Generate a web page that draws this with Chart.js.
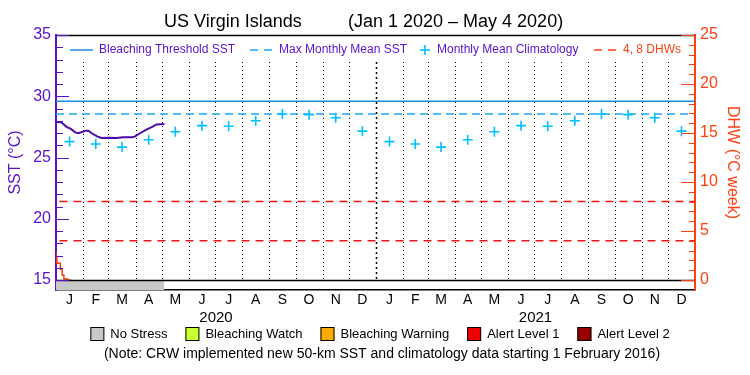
<!DOCTYPE html>
<html>
<head>
<meta charset="utf-8">
<script src="https://cdn.jsdelivr.net/npm/chart.js@4.4.0/dist/chart.umd.min.js"></script>
<style>
  html, body { margin:0; padding:0; background:#fff; }
</style>
</head>
<body>
<canvas id="chart" width="750" height="375"></canvas>
<script>
// months Jan 2020 .. Dec 2021
const monthDays   = [31,29,31,30,31,30,31,31,30,31,30,31, 31,28,31,30,31,30,31,31,30,31,30,31];
const monthLabels = ['J','F','M','A','M','J','J','A','S','O','N','D','J','F','M','A','M','J','J','A','S','O','N','D'];
const yearDays    = [366, 365];
const yearLabels  = ['2020', '2021'];

// monthly mean climatology Jan..Dec (same for both years)
const climatology = [26.3, 26.1, 25.85, 26.45, 27.1, 27.6, 27.55, 28.0, 28.55, 28.5, 28.25, 27.15];
const mmm         = 28.55;
const threshold   = 29.6;
const dhwLevels   = [4, 8];

// SST 2020 (day of year -> degC)
const sstDays = [0, 6, 8, 12, 17, 22, 25, 29, 34, 37, 41, 47, 52, 60, 69, 77, 87, 90, 96, 104, 110, 115, 124];
const sstVals = [27.9, 27.87, 27.75, 27.5, 27.33, 27.05, 26.98, 27.06, 27.19, 27.18, 26.98, 26.72, 26.6, 26.62, 26.6, 26.65, 26.65, 26.7, 26.98, 27.3, 27.5, 27.7, 27.73];

// degree heating weeks 2020
const dhwDays = [0, 1, 5, 7, 9, 13, 17];
const dhwVals = [2.9, 2.4, 1.7, 1.1, 0.5, 0.1, 0];

// stress level bar
const stressStart = [0];
const stressEnd   = [124];
const stressLevel = [0];
const stressNames  = ['No Stress', 'Bleaching Watch', 'Bleaching Warning', 'Alert Level 1', 'Alert Level 2'];
const stressColors = ['#c8c8c8', '#ccff33', '#ffaa00', '#ee0000', '#990000'];

const sstTicks = [15, 20, 25, 30, 35];
const dhwTicks = [0, 5, 10, 15, 20, 25];

const FONT   = 'Liberation Sans';
const PURPLE = '#5a10cc';
const ORANGE = '#ff4010';
const BLUE   = '#1e8ce6';
const CYAN   = '#1ea8f0';
const PLUS   = '#00bfff';
const RED    = '#ee1515';

// day index helpers
const monthStarts = [];
monthDays.reduce((acc, d) => { monthStarts.push(acc); return acc + d; }, 0);
const monthMid = monthStarts.map((s, i) => s + monthDays[i] / 2);
const yearStarts = [0, yearDays[0]];
const yearMid = yearStarts.map((s, i) => s + yearDays[i] / 2);
const totalDays = yearDays[0] + yearDays[1];

// stress band sits below 15 degC / 0 DHW (10px of 255)
const sstMin = 35 - 20 * 255 / 245;
const dhwMin = 25 - 25 * 255 / 245;

const pts = (xs, ys) => xs.map((x, i) => ({x, y: ys[i]}));
const flat = v => [{x: 0, y: v}, {x: totalDays, y: v}];

const datasets = [
    { label: 'SST', data: pts(sstDays, sstVals), yAxisID: 'y',
      borderColor: '#4a0aa8', borderWidth: 2, pointRadius: 0 },
    { label: 'DHW', data: pts(dhwDays, dhwVals), yAxisID: 'y2', stepped: 'after',
      borderColor: '#ff3c00', borderWidth: 1.5, pointRadius: 0 },
    { label: 'Monthly Mean Climatology', data: pts(monthMid, monthMid.map((_, i) => climatology[i % 12])),
      yAxisID: 'y', showLine: false, pointStyle: 'cross', pointRadius: 5,
      borderColor: PLUS, borderWidth: 1.6 },
    { label: 'Bleaching Threshold SST', data: flat(threshold), yAxisID: 'y',
      borderColor: BLUE, borderWidth: 1.5, pointRadius: 0 },
    { label: 'Max Monthly Mean SST', data: flat(mmm), yAxisID: 'y',
      borderColor: CYAN, borderWidth: 1.5, borderDash: [8, 5], pointRadius: 0 },
];
dhwLevels.forEach(v => datasets.push({
    label: v + ' DHW', data: [{x: 4, y: v}, {x: totalDays, y: v}], yAxisID: 'y2',
    borderColor: RED, borderWidth: 1.5, borderDash: [8, 6], pointRadius: 0
}));
stressStart.forEach((s, i) => datasets.push({
    label: stressNames[stressLevel[i]], data: [{x: s, y: 15}, {x: stressEnd[i], y: 15}], yAxisID: 'y',
    fill: 'start', backgroundColor: stressColors[stressLevel[i]], borderWidth: 0, pointRadius: 0
}));

function hline(ctx, x0, x1, y, color, dash, w) {
    ctx.save();
    ctx.strokeStyle = color; ctx.lineWidth = w || 1.5; ctx.setLineDash(dash || []);
    ctx.beginPath(); ctx.moveTo(x0, y); ctx.lineTo(x1, y); ctx.stroke();
    ctx.restore();
}

const extras = {
    id: 'extras',
    beforeDatasetsDraw(chart) {
        const {ctx, chartArea: a, scales: {x, y}} = chart;
        ctx.save();
        ctx.strokeStyle = '#000';
        monthStarts.forEach((d, i) => {
            if (i === 0) return;
            const px = Math.round(x.getPixelForValue(d)) + 0.5;
            const edge = i % 12 === 0;
            ctx.lineWidth = edge ? 1.5 : 1;
            ctx.setLineDash(edge ? [2, 3] : [1, 3]);
            ctx.beginPath(); ctx.moveTo(px, a.top + 27); ctx.lineTo(px, y.getPixelForValue(15)); ctx.stroke();
        });
        ctx.restore();
    },
    afterDraw(chart) {
        const {ctx, chartArea: a, scales: {y, y2}} = chart;
        // frame
        hline(ctx, a.left, a.right, a.top + 0.5, '#000', [], 1.5);
        hline(ctx, a.left, a.right, Math.round(y.getPixelForValue(15)) + 0.5, '#000', [], 1.5);

        // inner tick marks
        ctx.save();
        ctx.lineWidth = 1;
        ctx.strokeStyle = PURPLE;
        for (let v = 15; v <= 35; v++) {
            const py = Math.round(y.getPixelForValue(v)) + 0.5;
            ctx.beginPath(); ctx.moveTo(a.left, py); ctx.lineTo(a.left + (v % 5 ? 7 : 13), py); ctx.stroke();
        }
        ctx.strokeStyle = ORANGE;
        for (let v = 0; v <= 25; v++) {
            const py = Math.round(y2.getPixelForValue(v)) + 0.5;
            ctx.beginPath(); ctx.moveTo(a.right, py); ctx.lineTo(a.right - (v % 5 ? 6 : 14), py); ctx.stroke();
        }
        ctx.restore();

        ctx.save();
        ctx.textBaseline = 'middle';
        ctx.textAlign = 'left';
        // title
        ctx.fillStyle = '#000';
        ctx.font = '18px "' + FONT + '"';
        ctx.fillText('US Virgin Islands', 164, 22);
        ctx.fillText('(Jan 1 2020 \u2013 May 4 2020)', 348, 22);

        // legend inside plot
        const ly = a.top + 15;
        ctx.font = '12px "' + FONT + '"';
        hline(ctx, 70, 93, ly, BLUE, [], 1.5);
        ctx.fillStyle = PURPLE;
        ctx.fillText('Bleaching Threshold SST', 99, ly, 139);
        hline(ctx, 250, 273, ly, CYAN, [8, 6], 1.5);
        ctx.fillText('Max Monthly Mean SST', 279, ly, 132);
        hline(ctx, 420, 430, ly, PLUS, [], 1.6);
        ctx.save(); ctx.strokeStyle = PLUS; ctx.lineWidth = 1.6;
        ctx.beginPath(); ctx.moveTo(425, ly - 5); ctx.lineTo(425, ly + 5); ctx.stroke(); ctx.restore();
        ctx.fillText('Monthly Mean Climatology', 437, ly, 148);
        hline(ctx, 594, 616, ly, ORANGE, [8, 6], 1.5);
        ctx.fillStyle = ORANGE;
        ctx.fillText('4, 8 DHWs', 623, ly, 61);

        // stress legend
        ctx.font = '13px "' + FONT + '"';
        const box = 14, gap = 6, sep = 18;
        const widths = stressNames.map(n => ctx.measureText(n).width);
        const total = widths.reduce((s, w) => s + w + box + gap, 0) + sep * (stressNames.length - 1);
        let bx = 380 - total / 2;
        const by = 334;
        stressNames.forEach((n, i) => {
            ctx.fillStyle = stressColors[i];
            ctx.fillRect(bx, by - 7, box, box);
            ctx.strokeStyle = '#000'; ctx.lineWidth = 1;
            ctx.strokeRect(bx + 0.5, by - 6.5, box - 1, box - 1);
            ctx.fillStyle = '#000';
            ctx.fillText(n, bx + box + gap, by);
            bx += box + gap + widths[i] + sep;
        });

        ctx.font = '14px "' + FONT + '"';
        ctx.textAlign = 'center';
        ctx.fillText('(Note: CRW implemented new 50-km SST and climatology data starting 1 February 2016)', 382, 354);
        ctx.restore();
    }
};

new Chart(document.getElementById('chart'), {
    type: 'line',
    data: { datasets },
    plugins: [extras],
    options: {
        responsive: false,
        animation: false,
        devicePixelRatio: 1,
        layout: { padding: { top: 35, bottom: 50, left: 0, right: 0 } },
        plugins: { legend: { display: false }, tooltip: { enabled: false } },
        elements: { line: { tension: 0 } },
        scales: {
            x: {
                type: 'linear', position: 'bottom', min: 0, max: totalDays,
                afterBuildTicks: s => { s.ticks = monthMid.map(v => ({value: v})); },
                afterFit: s => { s.height = 17; },
                ticks: { autoSkip: false, maxRotation: 0, padding: 2, color: '#000',
                         font: { family: FONT, size: 14 }, callback: (v, i) => monthLabels[i] },
                grid: { display: false, drawTicks: false },
                border: { display: true, color: '#000', width: 1.5 }
            },
            x2: {
                type: 'linear', position: 'bottom', min: 0, max: totalDays,
                afterBuildTicks: s => { s.ticks = yearMid.map(v => ({value: v})); },
                afterFit: s => { s.height = 18; },
                ticks: { autoSkip: false, maxRotation: 0, padding: 2, color: '#000',
                         font: { family: FONT, size: 15 }, callback: (v, i) => yearLabels[i] },
                grid: { display: false, drawTicks: false },
                border: { display: false }
            },
            y: {
                type: 'linear', position: 'left', min: sstMin, max: 35,
                afterBuildTicks: s => { s.ticks = sstTicks.map(v => ({value: v})); },
                afterFit: s => { s.width = 56; },
                ticks: { padding: 5, color: PURPLE, font: { family: FONT, size: 16 } },
                grid: { display: false, drawTicks: false },
                border: { display: true, color: PURPLE, width: 2 },
                title: { display: true, text: 'SST (\u00b0C)', color: PURPLE,
                         font: { family: FONT, size: 16 }, padding: { top: 6, bottom: 0 } }
            },
            y2: {
                type: 'linear', position: 'right', min: dhwMin, max: 25,
                afterBuildTicks: s => { s.ticks = dhwTicks.map(v => ({value: v})); },
                afterFit: s => { s.width = 55; },
                ticks: { padding: 5, color: ORANGE, font: { family: FONT, size: 16 } },
                grid: { display: false, drawTicks: false },
                border: { display: true, color: ORANGE, width: 2 },
                title: { display: true, text: 'DHW (\u00b0C week)', color: ORANGE,
                         font: { family: FONT, size: 16 }, padding: { top: 8, bottom: 0 } }
            }
        }
    }
});
</script>
</body>
</html>
